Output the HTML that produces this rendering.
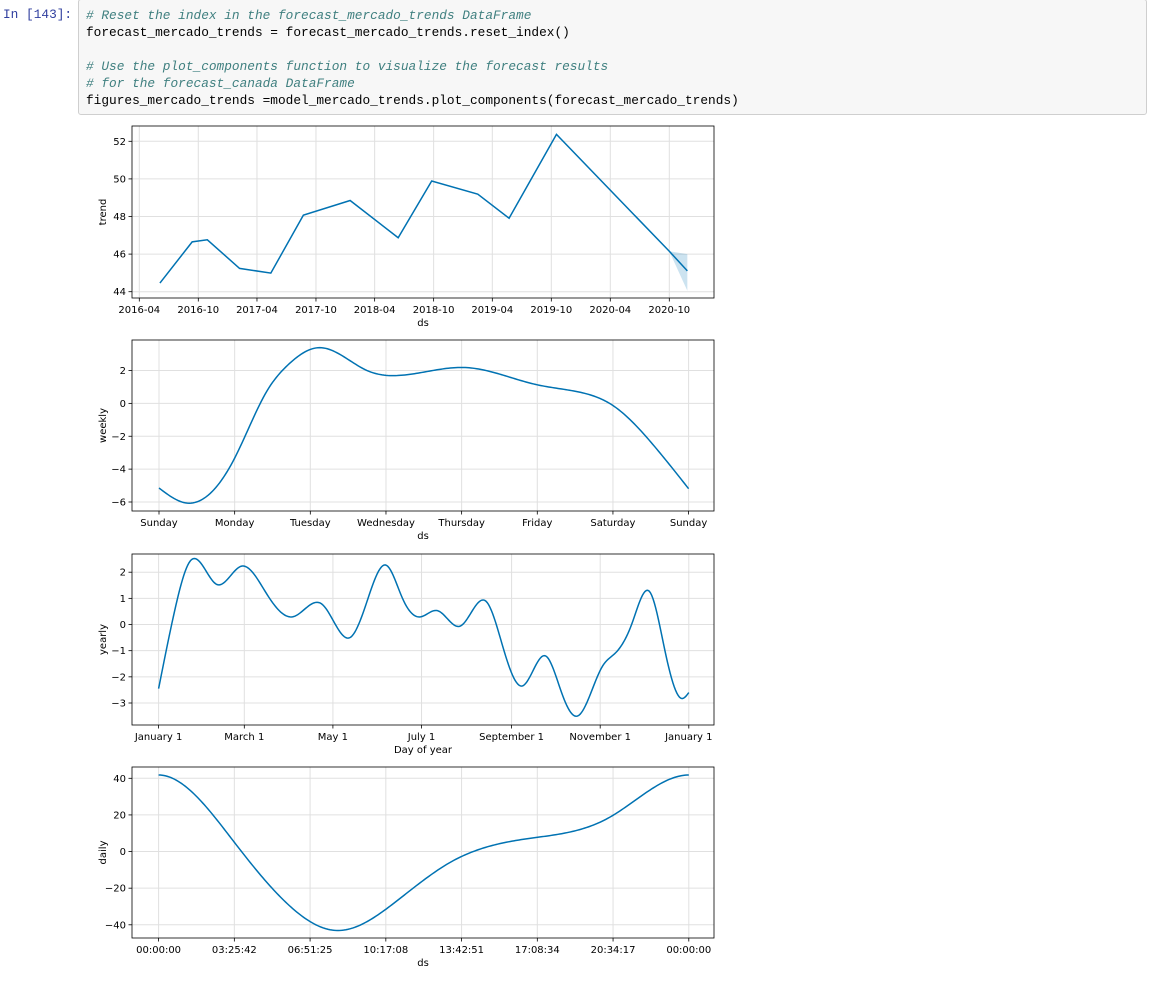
<!DOCTYPE html>
<html><head><meta charset="utf-8">
<style>
body{margin:0;background:#fff;width:1160px;height:995px;overflow:hidden;position:relative;font-family:"DejaVu Sans","Liberation Sans",sans-serif}
#prompt{position:absolute;left:3px;top:7px;font:12.8px "Liberation Mono",monospace;color:#303F9F}
#code{position:absolute;left:78px;top:-1px;width:1069px;height:116px;background:#f7f7f7;border:1px solid #cfcfcf;border-radius:3px;box-sizing:border-box;padding:7px 0 0 7px;font:12.8px/17px "Liberation Mono",monospace;color:#000;white-space:pre}
.c{color:#408080;font-style:italic}
svg{position:absolute;left:0;top:0}
</style></head><body>
<div id="prompt">In [143]:</div>
<div id="code"><span class="c"># Reset the index in the forecast_mercado_trends DataFrame</span>
forecast_mercado_trends = forecast_mercado_trends.reset_index()

<span class="c"># Use the plot_components function to visualize the forecast results</span>
<span class="c"># for the forecast_canada DataFrame</span>
figures_mercado_trends =model_mercado_trends.plot_components(forecast_mercado_trends)</div>
<svg id="fig" width="1160" height="995"></svg>
<script>
// ---- trend data ----
const trendDates=["2016-06-04","2016-09-12","2016-10-29","2017-02-06","2017-05-14","2017-08-23","2018-01-15","2018-06-13","2018-09-25","2019-02-15","2019-05-23","2019-10-17","2020-10-01","2020-11-26"];
const trendVals=[44.46,46.65,46.76,45.24,44.99,48.07,48.85,46.87,49.89,49.19,47.91,52.37,46.15,45.11];
const bandDates=["2020-10-01","2020-11-26"];
const bandUpper=[46.15,46.0];
const bandLower=[46.15,44.05];
const trendTicks=["2016-04","2016-10","2017-04","2017-10","2018-04","2018-10","2019-04","2019-10","2020-04","2020-10"];
const trendYTicks=[44,46,48,50,52];
// ---- weekly ----
const weekDays=[0,0.36,1.0,1.42,1.7,2.12,2.74,3.23,4.05,4.98,5.53,5.99,6.5,7];
const weekVals=[-5.15,-6.06,-3.33,0.7,2.32,3.39,2.02,1.72,2.18,1.15,0.71,-0.1,-2.35,-5.19];
const weekTicks=["Sunday","Monday","Tuesday","Wednesday","Thursday","Friday","Saturday","Sunday"];
const weekYTicks=[-6,-4,-2,0,2];
// ---- yearly ----
const yearFrac=[0,0.03,0.061,0.110,0.156,0.203,0.254,0.308,0.361,0.395,0.429,0.46,0.493,0.526,0.569,0.618,0.65,0.686,0.730,0.76,0.790,0.837,0.861,0.893,0.926,0.955,0.987,1];
const yearVals=[-2.45,0.5,2.46,1.53,2.23,1.2,0.30,0.78,-0.5,1.0,2.27,1.0,0.29,0.53,-0.06,0.88,-0.9,-2.35,-1.2,-2.6,-3.5,-1.6,-1.1,0.05,1.26,-1.0,-2.83,-2.6];
const yearTickDays=[0,59,120,181,243,304,365];
const yearTicks=["January 1","March 1","May 1","July 1","September 1","November 1","January 1"];
const yearYTicks=[-3,-2,-1,0,1,2];
// ---- daily ----
const dayFrac=[0,0.143,0.25,0.335,0.45,0.55,0.7,0.85,1];
const dayVals=[41.8,5.0,-30.4,-43.1,-26.8,-5.9,7.2,18.6,41.8];
const dayTicks=["00:00:00","03:25:42","06:51:25","10:17:08","13:42:51","17:08:34","20:34:17","00:00:00"];
const dayYTicks=[-40,-20,0,20,40];

const NS="http://www.w3.org/2000/svg";
const svg=document.getElementById('fig');
function el(t,a,p){const e=document.createElementNS(NS,t);for(const k in a)e.setAttribute(k,a[k]);(p||svg).appendChild(e);return e;}
function txt(s,a,p){const e=el('text',a,p);e.textContent=s;return e;}
function lin(d0,d1,r0,r1){return v=>r0+(v-d0)/(d1-d0)*(r1-r0);}
// cubic spline: natural by default, clamped if s0/s1 given
function spline(xs,ys,s0,s1){
  const n=xs.length,h=[];for(let i=0;i<n-1;i++)h.push(xs[i+1]-xs[i]);
  const a=new Array(n).fill(0),b=new Array(n).fill(0),c=new Array(n).fill(0),r=new Array(n).fill(0);
  if(s0===undefined){b[0]=1;}else{b[0]=2*h[0];c[0]=h[0];r[0]=6*((ys[1]-ys[0])/h[0]-s0);}
  if(s1===undefined){b[n-1]=1;}else{a[n-1]=h[n-2];b[n-1]=2*h[n-2];r[n-1]=6*(s1-(ys[n-1]-ys[n-2])/h[n-2]);}
  for(let i=1;i<n-1;i++){a[i]=h[i-1];b[i]=2*(h[i-1]+h[i]);c[i]=h[i];r[i]=6*((ys[i+1]-ys[i])/h[i]-(ys[i]-ys[i-1])/h[i-1]);}
  for(let i=1;i<n;i++){const m=a[i]/b[i-1];b[i]-=m*c[i-1];r[i]-=m*r[i-1];}
  const M=new Array(n);M[n-1]=r[n-1]/b[n-1];for(let i=n-2;i>=0;i--)M[i]=(r[i]-c[i]*M[i+1])/b[i];
  return x=>{let i=0;while(i<n-2&&x>xs[i+1])i++;const hh=h[i],A=(xs[i+1]-x)/hh,B=(x-xs[i])/hh;
    return A*ys[i]+B*ys[i+1]+((A*A*A-A)*M[i]+(B*B*B-B)*M[i+1])*hh*hh/6;};
}
const L=132,R=714;
function panel(name,top,bottom,yTicks,yScale,xTickPos,xTickLabels,ylabel,xlabel){
  const g=el('g',{});
  
  
  xTickPos.forEach((x,i)=>{
    const gl=el('line',{x1:x,x2:x,y1:top,y2:bottom,stroke:'#e0e0e0','stroke-width':1},g);
    
    
    el('line',{x1:x,x2:x,y1:bottom,y2:bottom+3.5,stroke:'#000','stroke-width':0.8},g);
    const t=txt(xTickLabels[i],{x:x,y:bottom+15,'font-size':10,'text-anchor':'middle',fill:'#000'},g);
    
    
  });
  yTicks.forEach(v=>{
    const y=yScale(v);
    const gl=el('line',{x1:L,x2:R,y1:y,y2:y,stroke:'#e0e0e0','stroke-width':1},g);
    
    
    el('line',{x1:L-3.5,x2:L,y1:y,y2:y,stroke:'#000','stroke-width':0.8},g);
    const t=txt(String(v).replace('-','\u2212'),{x:L-6,y:y+3.5,'font-size':10,'text-anchor':'end',fill:'#000'},g);
    
    
  });
  const yl=txt(ylabel,{x:0,y:0,'font-size':10,'text-anchor':'middle',transform:`translate(106,${(top+bottom)/2}) rotate(-90)`},g);
  
  
  const xl=txt(xlabel,{x:(L+R)/2,y:bottom+28,'font-size':10,'text-anchor':'middle'},g);
  
  
  return g;
}
function frame(g,top,bottom){const r=el('rect',{x:L,y:top,width:R-L,height:bottom-top,fill:'none',stroke:'#000','stroke-width':0.8},g);}
const BLUE='#0072B2';
// ===== trend =====
(function(){
  const top=126,bottom=298;
  const ms=s=>Date.parse(s);
  const x=lin(ms("2016-04-01"),ms("2020-10-01"),139.3,669.3);
  const y=lin(44,52,291.7,141.3);
  const g=panel('trend',top,bottom,trendYTicks,y,trendTicks.map(t=>x(ms(t+"-01"))),trendTicks,'trend','ds');
  let d='M'+x(ms(bandDates[0]))+','+y(bandUpper[0]);
  for(let i=1;i<bandDates.length;i++)d+='L'+x(ms(bandDates[i]))+','+y(bandUpper[i]);
  for(let i=bandDates.length-1;i>=0;i--)d+='L'+x(ms(bandDates[i]))+','+y(bandLower[i]);
  const band=el('path',{d:d+'Z',fill:BLUE,'fill-opacity':0.2},g);
  
  
  const p=el('polyline',{points:trendDates.map((t,i)=>x(ms(t))+','+y(trendVals[i])).join(' '),fill:'none',stroke:BLUE,'stroke-width':1.5},g);
  
  
  frame(g,top,bottom);
})();
// ===== weekly =====
(function(){
  const top=340,bottom=511;
  const x=lin(0,7,159,688.6);
  const y=lin(-6,2,502,370.5);
  const g=panel('weekly',top,bottom,weekYTicks,y,weekTicks.map((t,i)=>x(i)),weekTicks,'weekly','ds');
  const f=spline(weekDays,weekVals);
  let pts=[];for(let k=0;k<=280;k++){const d=7*k/280;pts.push(x(d).toFixed(2)+','+y(f(d)).toFixed(2));}
  const p=el('polyline',{points:pts.join(' '),fill:'none',stroke:BLUE,'stroke-width':1.5},g);
  
  
  frame(g,top,bottom);
})();
// ===== yearly =====
(function(){
  const top=554,bottom=725;
  const x=lin(0,1,158.6,688.8);
  const y=lin(-3,2,703,572.2);
  const g=panel('yearly',top,bottom,yearYTicks,y,yearTickDays.map(d=>x(d/365)),yearTicks,'yearly','Day of year');
  const f=spline(yearFrac,yearVals);
  let pts=[];for(let k=0;k<=400;k++){const t=k/400;pts.push(x(t).toFixed(2)+','+y(f(t)).toFixed(2));}
  const p=el('polyline',{points:pts.join(' '),fill:'none',stroke:BLUE,'stroke-width':1.5},g);
  
  
  frame(g,top,bottom);
})();
// ===== daily =====
(function(){
  const top=767,bottom=938;
  const x=lin(0,1,158.6,688.8);
  const y=lin(-40,40,924.8,778.3);
  const g=panel('daily',top,bottom,dayYTicks,y,dayTicks.map((t,i)=>x(i/7)),dayTicks,'daily','ds');
  const f=spline(dayFrac,dayVals,0,0);
  let pts=[];for(let k=0;k<=300;k++){const t=k/300;pts.push(x(t).toFixed(2)+','+y(f(t)).toFixed(2));}
  const p=el('polyline',{points:pts.join(' '),fill:'none',stroke:BLUE,'stroke-width':1.5},g);
  
  
  frame(g,top,bottom);
})();
</script>
</body></html>
